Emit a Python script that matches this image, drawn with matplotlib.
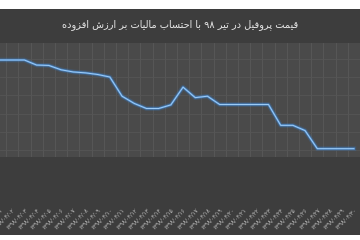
import numpy as np
import matplotlib
matplotlib.use("Agg")
import matplotlib.pyplot as plt
from matplotlib.patches import Rectangle

# price of profile during Tir 1398 (toman)
days = list(range(0, 30))
prices = [32480, 32480, 32480, 32340, 32330, 32210, 32150, 32125, 32080, 32010,
          31480, 31280, 31140, 31140, 31240, 31730, 31440, 31480, 31250, 31250,
          31250, 31250, 31250, 30675, 30675, 30530, 30030, 30030, 30030, 30030]

fa_digits = "۰۱۲۳۴۵۶۷۸۹"
def fa(n):
    return "".join(fa_digits[int(c)] for c in str(n))

date_labels = ["۱۳۹۸/۰۴/" + fa(d + 1).rjust(2, "۰") for d in days]

title_text = "قیمت پروفیل در تیر ۹۸ با احتساب مالیات بر ارزش افزوده"

# simple arabic shaping (no bidi support in matplotlib)
forms = {
    "ا": ("\uFE8D", "\uFE8E", None, None),
    "ب": ("\uFE8F", "\uFE90", "\uFE91", "\uFE92"),
    "ت": ("\uFE95", "\uFE96", "\uFE97", "\uFE98"),
    "ح": ("\uFEA1", "\uFEA2", "\uFEA3", "\uFEA4"),
    "د": ("\uFEA9", "\uFEAA", None, None),
    "ر": ("\uFEAD", "\uFEAE", None, None),
    "ز": ("\uFEAF", "\uFEB0", None, None),
    "س": ("\uFEB1", "\uFEB2", "\uFEB3", "\uFEB4"),
    "ش": ("\uFEB5", "\uFEB6", "\uFEB7", "\uFEB8"),
    "ف": ("\uFED1", "\uFED2", "\uFED3", "\uFED4"),
    "ق": ("\uFED5", "\uFED6", "\uFED7", "\uFED8"),
    "ل": ("\uFEDD", "\uFEDE", "\uFEDF", "\uFEE0"),
    "م": ("\uFEE1", "\uFEE2", "\uFEE3", "\uFEE4"),
    "ه": ("\uFEE9", "\uFEEA", "\uFEEB", "\uFEEC"),
    "و": ("\uFEED", "\uFEEE", None, None),
    "ی": ("\uFBFC", "\uFBFD", "\uFBFE", "\uFBFF"),
    "پ": ("\uFB56", "\uFB57", "\uFB58", "\uFB59"),
}

def shape(text):
    out = []
    for i, ch in enumerate(text):
        if ch not in forms:
            out.append(ch)
            continue
        prev = text[i - 1] if i > 0 else ""
        nxt = text[i + 1] if i + 1 < len(text) else ""
        join_prev = prev in forms and forms[prev][2] is not None
        join_next = nxt in forms and forms[ch][2] is not None
        iso, fin, ini, med = forms[ch]
        if join_prev and join_next:
            out.append(med)
        elif join_prev:
            out.append(fin)
        elif join_next:
            out.append(ini)
        else:
            out.append(iso)
    s = "".join(out)
    # visual order: reverse, but keep digit runs left to right
    runs, cur, cur_dig = [], "", None
    for ch in s:
        d = ch in fa_digits
        if cur and d != cur_dig:
            runs.append((cur, cur_dig))
            cur = ""
        cur += ch
        cur_dig = d
    runs.append((cur, cur_dig))
    return "".join(r if d else r[::-1] for r, d in runs[::-1])

fig = plt.figure(figsize=(3.6, 2.4), dpi=100, facecolor="white")
fig.patches.append(Rectangle((0, 5 / 240), 1, 1 - 14 / 240, transform=fig.transFigure,
                             facecolor="#3d3d3d", edgecolor="none", zorder=-10))

ax = fig.add_axes([0, 1 - 157 / 240, 1, 114 / 240])
ax.set_facecolor("#4a4a4a")
for s in ax.spines.values():
    s.set_visible(False)

x = np.array(days)
ax.plot(x, prices, color="#2f7fd6", lw=3.4, alpha=0.22)
ax.plot(x, prices, color="#4b95e2", lw=1.7, alpha=0.7)
ax.plot(x, prices, color="#9fcdf8", lw=0.7)

ax.set_xlim(0.5, 28.5)
ax.set_ylim(29800, 32950)

ax.set_xticks(x)
ax.set_xticklabels(date_labels, rotation=45, ha="right", rotation_mode="anchor",
                   fontsize=4, color="#c4c4c4")
ax.set_xticks(x + 0.5, minor=True)
ax.tick_params(axis="x", which="both", length=0, pad=36)
ax.set_yticks([30000, 30500, 31000, 31500, 32000, 32500])
ax.tick_params(axis="y", length=0, labelleft=False)
ax.grid(True, axis="x", which="minor", color="#595959", lw=0.6)
ax.grid(True, axis="y", which="major", color="#555555", lw=0.6)
ax.set_axisbelow(True)

fig.text(0.5, 1 - 25 / 240, shape(title_text), ha="center", va="center",
         fontsize=7, color="#e6e6e6", family="DejaVu Sans")

fig.savefig("out.png", dpi=100, facecolor=fig.get_facecolor())
